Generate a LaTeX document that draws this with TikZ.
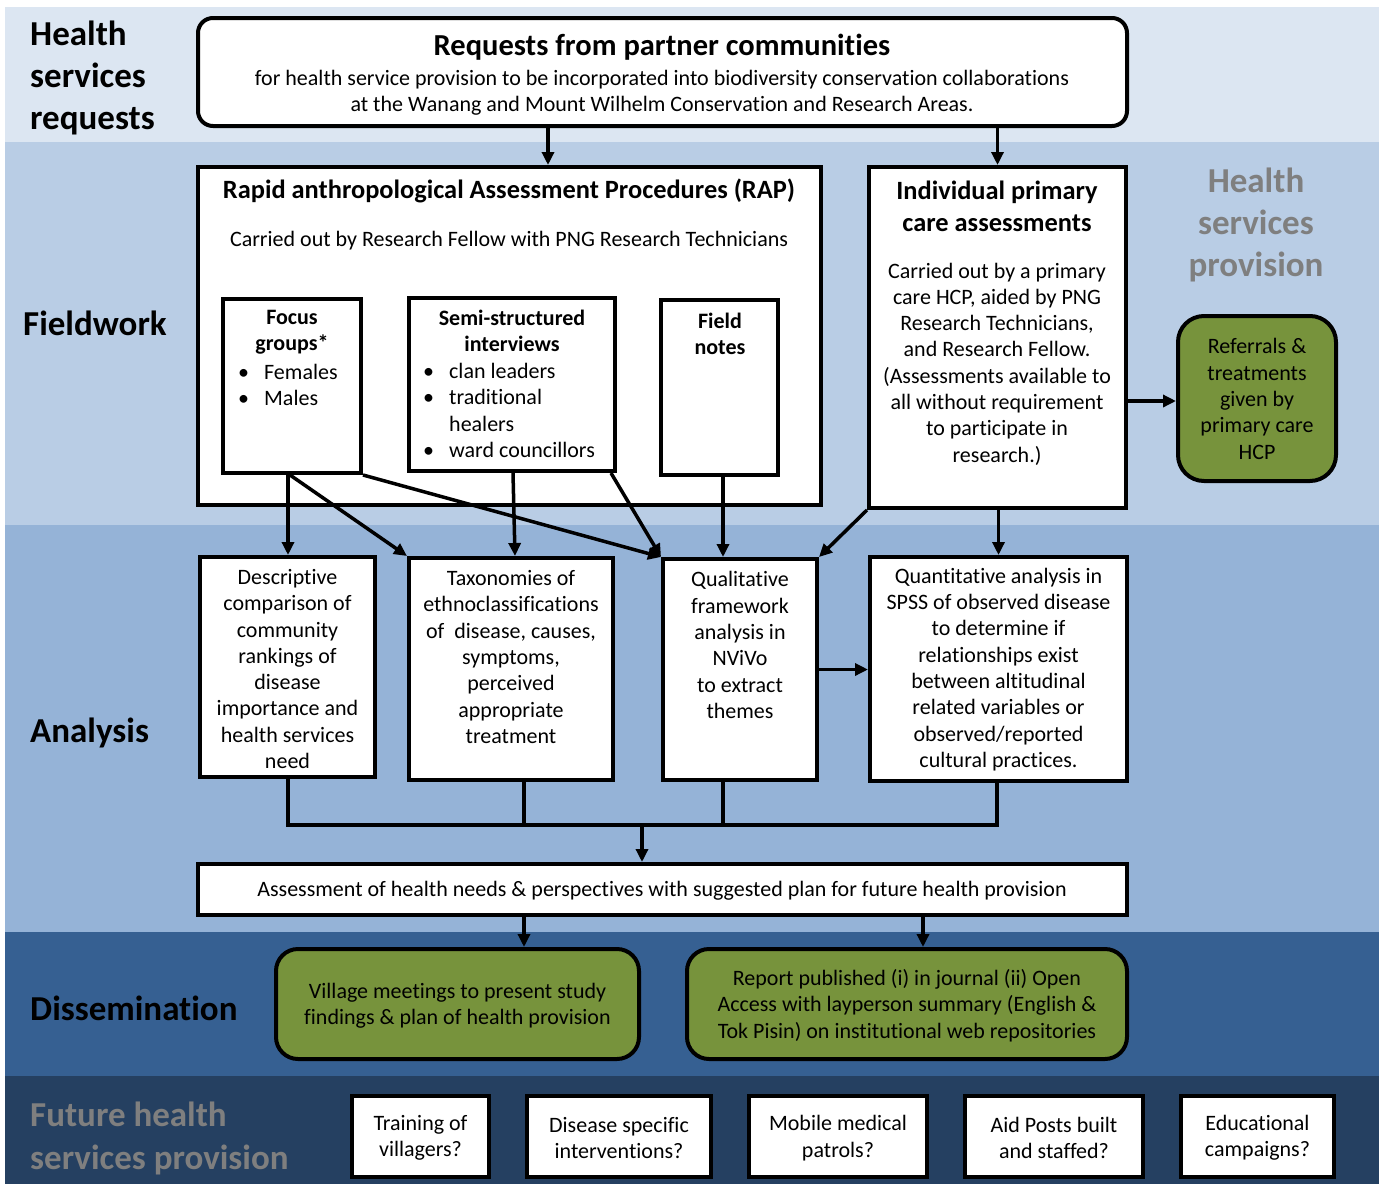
\documentclass[tikz,border=0pt]{standalone}
\usepackage{fontspec}
\setmainfont{Carlito}[Ligatures=NoCommon]
\usetikzlibrary{arrows.meta}
\definecolor{bandA}{HTML}{DCE6F2}
\definecolor{bandB}{HTML}{B9CDE5}
\definecolor{bandC}{HTML}{95B3D7}
\definecolor{bandD}{HTML}{366092}
\definecolor{bandE}{HTML}{254061}
\definecolor{greenA}{HTML}{77933C}
\definecolor{greyA}{HTML}{7F7F7F}
\begin{document}
\begin{tikzpicture}[x=1pt,y=-1pt,
 box/.style={draw=black, line width=4pt, fill=white, inner sep=0pt},
 gbox/.style={box, fill=greenA, rounded corners=22pt},
 txt/.style={font=\fontsize{22}{26.3}\selectfont, align=center, inner sep=0pt},
 stitle/.style={font=\fontsize{22}{26.3}\selectfont\bfseries, align=center, inner sep=0pt},
 btitle/.style={font=\fontsize{26.4}{32}\selectfont\bfseries, align=center, inner sep=0pt},
 lab/.style={font=\fontsize{35}{42}\selectfont\bfseries, align=left, inner sep=0pt, anchor=west},
 arr/.style={line width=3.5pt, -{Triangle[length=13pt,width=12pt]}},
 ln/.style={line width=3.5pt},
]
\useasboundingbox (0,0) rectangle (1385,1184);
\fill[white] (0,0) rectangle (1385,1184);
% bands
\fill[bandA] (5,7) rectangle (1379,142);
\fill[bandB] (5,142) rectangle (1379,525);
\fill[bandC] (5,525) rectangle (1379,932);
\fill[bandD] (5,932) rectangle (1379,1076);
\fill[bandE] (5,1076) rectangle (1379,1184);
% band labels
\node[lab] (lreq) at (30,78) {Health\\services\\requests};
\node[lab] (lfield) at (23,323) {Fieldwork};
\node[lab] (lana) at (30,733) {Analysis};
\node[lab] (ldis) at (30,1008) {Dissemination};
\node[lab, text=greyA, font=\fontsize{35}{43}\selectfont\bfseries] (lfut) at (30,1138) {Future health\\services provision};
\node[lab, anchor=center, align=center, text=greyA] (lprov) at (1256,225) {Health\\services\\provision};
% boxes
\node[box, rounded corners=15pt, minimum width=929pt, minimum height=108pt] (req) at (662.5,72) {};
\node[btitle, font=\fontsize{30.5}{32}\selectfont\bfseries] (reqt) at (662,47) {Requests from partner communities};
\node[txt] (reqs) at (662,92.5) {for health service provision to be incorporated into biodiversity conservation collaborations\\at the Wanang and Mount Wilhelm Conservation and Research Areas.};

\node[box, minimum width=623pt, minimum height=338pt] (rap) at (509.5,336) {};
\node[btitle] (rapt) at (509,191) {Rapid anthropological Assessment Procedures (RAP)};
\node[txt] (raps) at (509,241) {Carried out by Research Fellow with PNG Research Technicians};

\node[box, minimum width=138pt, minimum height=174pt] (focus) at (292,386) {};
\node[stitle] (focust) at (292,332) {Focus\\groups*};
\node[txt, align=left, anchor=west] (focusl) at (238,385) {\makebox[26pt][l]{\textbullet}Females\\\makebox[26pt][l]{\textbullet}Males};

\node[box, minimum width=206pt, minimum height=173pt] (semi) at (512,384.5) {};
\node[stitle] (semit) at (512,331) {Semi-structured\\interviews};
\node[txt, align=left, anchor=west] (semil) at (423,410.5) {\makebox[26pt][l]{\textbullet}clan leaders\\\makebox[26pt][l]{\textbullet}traditional\\\hspace*{26pt}healers\\\makebox[26pt][l]{\textbullet}ward councillors};

\node[box, minimum width=117pt, minimum height=175pt] (field) at (719.5,387.5) {};
\node[stitle] (fieldt) at (720,334) {Field\\notes};

\node[box, minimum width=257pt, minimum height=341pt] (indiv) at (997.5,337.5) {};
\node[btitle] (indivt) at (997,206) {Individual primary\\care assessments};
\node[txt] (indivs) at (997,364) {Carried out by a primary\\care HCP, aided by PNG\\Research Technicians,\\and Research Fellow.\\(Assessments available to\\all without requirement\\to participate in\\research.)};

\node[gbox, rounded corners=26pt, minimum width=158pt, minimum height=165pt] (refer) at (1257,398.5) {};
\node[txt] (refert) at (1257,399) {Referrals \&\\treatments\\given by\\primary care\\HCP};

\node[box, minimum width=175pt, minimum height=220pt] (desc) at (287.5,667) {};
\node[txt] (desct) at (287.5,669) {Descriptive\\comparison of\\community\\rankings of\\disease\\importance and\\health services\\need};

\node[box, minimum width=204pt, minimum height=222pt] (taxo) at (511,669) {};
\node[txt] (taxot) at (511,657) {Taxonomies of\\ethnoclassifications\\of\ \ disease, causes,\\symptoms,\\perceived\\appropriate\\treatment};

\node[box, minimum width=154pt, minimum height=221pt] (qual) at (740,669.5) {};
\node[txt] (qualt) at (740,645) {Qualitative\\framework\\analysis in\\NViVo\\to extract\\themes};

\node[box, minimum width=257pt, minimum height=224pt] (quant) at (998.5,669) {};
\node[txt] (quantt) at (998.5,669.5) {Quantitative analysis in\\SPSS of observed disease\\to determine if\\relationships exist\\between altitudinal\\related variables or\\observed/reported\\cultural practices.};

\node[box, minimum width=929pt, minimum height=51pt] (assess) at (662.5,889.5) {};
\node[txt] (assesst) at (662,891) {Assessment of health needs \& perspectives with suggested plan for future health provision};

\node[gbox, minimum width=363pt, minimum height=110pt] (village) at (457.5,1004) {};
\node[txt] (villaget) at (457.5,1005.5) {Village meetings to present study\\findings \& plan of health provision};

\node[gbox, minimum width=440pt, minimum height=110pt] (report) at (907,1004) {};
\node[txt] (reportt) at (907,1005.5) {Report published (i) in journal (ii) Open\\Access with layperson summary (English \&\\Tok Pisin) on institutional web repositories};

\node[box, minimum width=137pt, minimum height=81pt] (f1) at (420.5,1136.5) {};
\node[txt] (f1t) at (420.5,1138) {Training of\\villagers?};
\node[box, minimum width=184pt, minimum height=81pt] (f2) at (619,1136.5) {};
\node[txt] (f2t) at (619,1138) {Disease specific\\interventions?};
\node[box, minimum width=178pt, minimum height=81pt] (f3) at (838,1136.5) {};
\node[txt] (f3t) at (838,1138) {Mobile medical\\patrols?};
\node[box, minimum width=178pt, minimum height=81pt] (f4) at (1054,1136.5) {};
\node[txt] (f4t) at (1054,1138) {Aid Posts built\\and staffed?};
\node[box, minimum width=153pt, minimum height=81pt] (f5) at (1257.5,1136.5) {};
\node[txt] (f5t) at (1257.5,1138) {Educational\\campaigns?};

% connectors
\draw[arr] (req.south -| 548,0) -- (rap.north -| 548,0);
\draw[arr] (req.south -| indiv.north) -- (indiv.north);
\draw[arr] (focus.south -| 288,0) -- (desc.north -| 288,0);
\draw[arr] (focus.south -| 290,0) -- (taxo.north west);
\draw[arr] (focus.south east) -- (qual.north west);
\draw[arr] (semi.south -| 513,0) -- (taxo.north -| 515,0);
\draw[arr] (semi.south -| 611,0) -- (qual.north west);
\draw[arr] (field.south -| 723,0) -- (qual.north -| 723,0);
\draw[arr] (indiv.south west) -- (qual.north east);
\draw[arr] (indiv.south -| quant.north) -- (quant.north);
\draw[arr] (qual.east) -- (quant.west |- qual.east);
\draw[arr] (indiv.east |- 0,401) -- (refer.west |- 0,401);
\coordinate (bus) at (642,825);
\draw[ln] (desc.south -| 288,0) -- (288,825) -- (997,825) -- (quant.south -| 997,0);
\draw[ln] (taxo.south -| 524,0) -- (524,825);
\draw[ln] (qual.south -| 723,0) -- (723,825);
\draw[arr] (bus) -- (assess.north -| bus);
\draw[arr] (assess.south -| 524,0) -- (village.north -| 524,0);
\draw[arr] (assess.south -| 923,0) -- (report.north -| 923,0);
\end{tikzpicture}
\end{document}
